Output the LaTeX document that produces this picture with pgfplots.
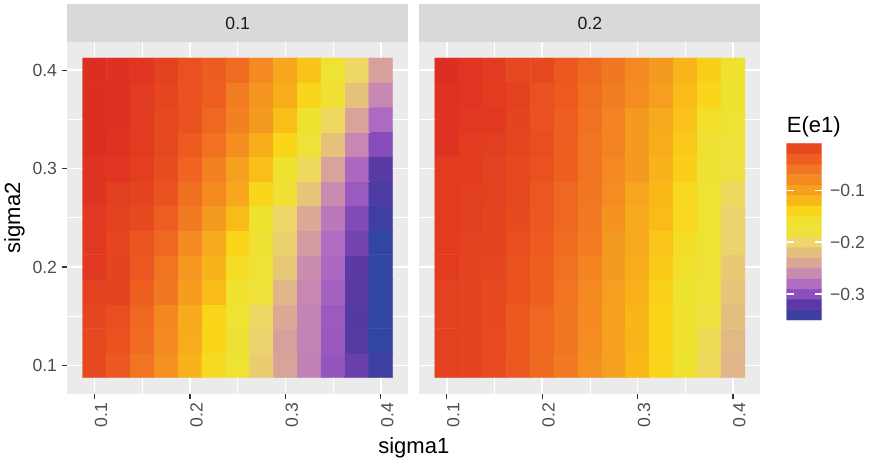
\documentclass[border=0pt]{standalone}
\usepackage{pgfplots}
\pgfplotsset{compat=1.18}
\usepackage{fontspec}
\setmainfont{Liberation Sans}
\definecolor{panelbg}{HTML}{EBEBEB}
\definecolor{stripbg}{HTML}{D9D9D9}
\definecolor{ticklab}{HTML}{4D4D4D}
\definecolor{tickcol}{HTML}{333333}
\definecolor{striptext}{HTML}{1A1A1A}
\pgfplotsset{
  colormap={ee}{
    rgb255(0)=(46,71,163)
    rgb255(10)=(60,63,160)
    rgb255(30)=(92,58,166)
    rgb255(50)=(141,79,188)
    rgb255(70)=(177,109,194)
    rgb255(90)=(201,138,176)
    rgb255(110)=(218,167,151)
    rgb255(130)=(227,191,127)
    rgb255(150)=(238,214,106)
    rgb255(170)=(239,225,58)
    rgb255(190)=(238,226,47)
    rgb255(210)=(250,213,26)
    rgb255(230)=(249,184,24)
    rgb255(250)=(246,160,32)
    rgb255(270)=(244,138,33)
    rgb255(290)=(240,118,34)
    rgb255(310)=(238,94,32)
    rgb255(330)=(230,73,31)
    rgb255(340)=(221,46,34)
  },
  facet/.style={
    scale only axis, width=341bp, height=351.7bp,
    xmin=0.07125, xmax=0.42875, ymin=0.07125, ymax=0.42875,
    axis background/.style={fill=panelbg},
    axis line style={draw=none},
    xtick={0.1,0.2,0.3,0.4}, ytick={0.1,0.2,0.3,0.4},
    xticklabels={0.1,0.2,0.3,0.4},
    minor xtick={0.15,0.25,0.35}, minor ytick={0.15,0.25,0.35},
    grid=both,
    major grid style={white, line width=1.6bp},
    minor grid style={white, line width=0.8bp},
    tick align=outside, major tick length=5bp, minor tick length=0pt,
    xtick pos=bottom, ytick pos=left,
    major tick style={tickcol, line width=1.3bp},
    colormap name=ee, point meta min=-0.35, point meta max=-0.01,
    tick label style={font=\fontsize{17.6bp}{20bp}\selectfont, text=ticklab},
    xticklabel style={rotate=90, anchor=north east, inner sep=0pt},
    xticklabel shift=4bp,
    yticklabel style={anchor=east, inner sep=0pt, xshift=-5bp},
  },
}
\newcommand{\tickfont}{\fontsize{17.6bp}{20bp}\selectfont}
\newcommand{\titlefont}{\fontsize{22bp}{26bp}\selectfont}
\begin{document}
\begin{tikzpicture}[x=1bp,y=1bp]
\path (0,0) rectangle (871,-461);
% left panel: sigma = 0.1
\begin{axis}[facet, at={(67.2bp,-393.7bp)}, anchor=south west, yticklabels={0.1,0.2,0.3,0.4}]
\addplot[matrix plot*, mesh/cols=13, point meta=explicit] coordinates {
(0.1,0.1)[-0.020] (0.125,0.1)[-0.035] (0.15,0.1)[-0.058] (0.175,0.1)[-0.085] (0.2,0.1)[-0.115] (0.225,0.1)[-0.148] (0.25,0.1)[-0.165] (0.275,0.1)[-0.208] (0.3,0.1)[-0.242] (0.325,0.1)[-0.266] (0.35,0.1)[-0.296] (0.375,0.1)[-0.315] (0.4,0.1)[-0.338]

(0.1,0.125)[-0.020] (0.125,0.125)[-0.029] (0.15,0.125)[-0.052] (0.175,0.125)[-0.080] (0.2,0.125)[-0.110] (0.225,0.125)[-0.140] (0.25,0.125)[-0.170] (0.275,0.125)[-0.203] (0.3,0.125)[-0.245] (0.325,0.125)[-0.265] (0.35,0.125)[-0.294] (0.375,0.125)[-0.323] (0.4,0.125)[-0.348]

(0.1,0.15)[-0.019] (0.125,0.15)[-0.025] (0.15,0.15)[-0.048] (0.175,0.15)[-0.077] (0.2,0.15)[-0.108] (0.225,0.15)[-0.140] (0.25,0.15)[-0.165] (0.275,0.15)[-0.198] (0.3,0.15)[-0.238] (0.325,0.15)[-0.264] (0.35,0.15)[-0.292] (0.375,0.15)[-0.325] (0.4,0.15)[-0.348]

(0.1,0.175)[-0.017] (0.125,0.175)[-0.018] (0.15,0.175)[-0.042] (0.175,0.175)[-0.062] (0.2,0.175)[-0.097] (0.225,0.175)[-0.122] (0.25,0.175)[-0.158] (0.275,0.175)[-0.180] (0.3,0.175)[-0.228] (0.325,0.175)[-0.262] (0.35,0.175)[-0.288] (0.375,0.175)[-0.322] (0.4,0.175)[-0.348]

(0.1,0.2)[-0.014] (0.125,0.2)[-0.018] (0.15,0.2)[-0.033] (0.175,0.2)[-0.058] (0.2,0.2)[-0.092] (0.225,0.2)[-0.115] (0.25,0.2)[-0.150] (0.275,0.2)[-0.172] (0.3,0.2)[-0.212] (0.325,0.2)[-0.258] (0.35,0.2)[-0.283] (0.375,0.2)[-0.320] (0.4,0.2)[-0.348]

(0.1,0.225)[-0.014] (0.125,0.225)[-0.019] (0.15,0.225)[-0.032] (0.175,0.225)[-0.048] (0.2,0.225)[-0.080] (0.225,0.225)[-0.108] (0.25,0.225)[-0.140] (0.275,0.225)[-0.170] (0.3,0.225)[-0.205] (0.325,0.225)[-0.248] (0.35,0.225)[-0.280] (0.375,0.225)[-0.310] (0.4,0.225)[-0.348]

(0.1,0.25)[-0.014] (0.125,0.25)[-0.017] (0.15,0.25)[-0.021] (0.175,0.25)[-0.040] (0.2,0.25)[-0.065] (0.225,0.25)[-0.095] (0.25,0.25)[-0.122] (0.275,0.25)[-0.160] (0.3,0.25)[-0.200] (0.325,0.25)[-0.238] (0.35,0.25)[-0.272] (0.375,0.25)[-0.305] (0.4,0.25)[-0.338]

(0.1,0.275)[-0.012] (0.125,0.275)[-0.016] (0.15,0.275)[-0.018] (0.175,0.275)[-0.030] (0.2,0.275)[-0.055] (0.225,0.275)[-0.080] (0.25,0.275)[-0.105] (0.275,0.275)[-0.142] (0.3,0.275)[-0.170] (0.325,0.275)[-0.215] (0.35,0.275)[-0.260] (0.375,0.275)[-0.292] (0.4,0.275)[-0.330]

(0.1,0.3)[-0.012] (0.125,0.3)[-0.013] (0.15,0.3)[-0.016] (0.175,0.3)[-0.024] (0.2,0.3)[-0.045] (0.225,0.3)[-0.070] (0.25,0.3)[-0.100] (0.275,0.3)[-0.125] (0.3,0.3)[-0.160] (0.325,0.3)[-0.196] (0.35,0.3)[-0.243] (0.375,0.3)[-0.283] (0.4,0.3)[-0.322]

(0.1,0.325)[-0.010] (0.125,0.325)[-0.012] (0.15,0.325)[-0.015] (0.175,0.325)[-0.020] (0.2,0.325)[-0.037] (0.225,0.325)[-0.056] (0.25,0.325)[-0.082] (0.275,0.325)[-0.112] (0.3,0.325)[-0.140] (0.325,0.325)[-0.175] (0.35,0.325)[-0.217] (0.375,0.325)[-0.262] (0.4,0.325)[-0.303]

(0.1,0.35)[-0.010] (0.125,0.35)[-0.011] (0.15,0.35)[-0.015] (0.175,0.35)[-0.020] (0.2,0.35)[-0.030] (0.225,0.35)[-0.048] (0.25,0.35)[-0.072] (0.275,0.35)[-0.095] (0.3,0.35)[-0.125] (0.325,0.35)[-0.160] (0.35,0.35)[-0.196] (0.375,0.35)[-0.243] (0.4,0.35)[-0.282]

(0.1,0.375)[-0.010] (0.125,0.375)[-0.011] (0.15,0.375)[-0.015] (0.175,0.375)[-0.019] (0.2,0.375)[-0.030] (0.225,0.375)[-0.040] (0.25,0.375)[-0.066] (0.275,0.375)[-0.090] (0.3,0.375)[-0.112] (0.325,0.375)[-0.142] (0.35,0.375)[-0.170] (0.375,0.375)[-0.218] (0.4,0.375)[-0.262]

(0.1,0.4)[-0.010] (0.125,0.4)[-0.011] (0.15,0.4)[-0.013] (0.175,0.4)[-0.017] (0.2,0.4)[-0.028] (0.225,0.4)[-0.038] (0.25,0.4)[-0.052] (0.275,0.4)[-0.080] (0.3,0.4)[-0.105] (0.325,0.4)[-0.128] (0.35,0.4)[-0.165] (0.375,0.4)[-0.198] (0.4,0.4)[-0.245]
};
\end{axis}
% right panel: sigma = 0.2
\begin{axis}[facet, at={(419.4bp,-393.7bp)}, anchor=south west, yticklabels={}, ytick style={draw=none}]
\addplot[matrix plot*, mesh/cols=13, point meta=explicit] coordinates {
(0.1,0.1)[-0.017] (0.125,0.1)[-0.018] (0.15,0.1)[-0.022] (0.175,0.1)[-0.035] (0.2,0.1)[-0.050] (0.225,0.1)[-0.064] (0.25,0.1)[-0.085] (0.275,0.1)[-0.100] (0.3,0.1)[-0.119] (0.325,0.1)[-0.142] (0.35,0.1)[-0.163] (0.375,0.1)[-0.194] (0.4,0.1)[-0.228]

(0.1,0.125)[-0.017] (0.125,0.125)[-0.018] (0.15,0.125)[-0.022] (0.175,0.125)[-0.034] (0.2,0.125)[-0.048] (0.225,0.125)[-0.061] (0.25,0.125)[-0.082] (0.275,0.125)[-0.100] (0.3,0.125)[-0.117] (0.325,0.125)[-0.140] (0.35,0.125)[-0.160] (0.375,0.125)[-0.192] (0.4,0.125)[-0.225]

(0.1,0.15)[-0.017] (0.125,0.15)[-0.018] (0.15,0.15)[-0.020] (0.175,0.15)[-0.034] (0.2,0.15)[-0.048] (0.225,0.15)[-0.060] (0.25,0.15)[-0.080] (0.275,0.15)[-0.100] (0.3,0.15)[-0.118] (0.325,0.15)[-0.140] (0.35,0.15)[-0.160] (0.375,0.15)[-0.182] (0.4,0.15)[-0.220]

(0.1,0.175)[-0.017] (0.125,0.175)[-0.018] (0.15,0.175)[-0.020] (0.175,0.175)[-0.030] (0.2,0.175)[-0.042] (0.225,0.175)[-0.058] (0.25,0.175)[-0.078] (0.275,0.175)[-0.098] (0.3,0.175)[-0.114] (0.325,0.175)[-0.138] (0.35,0.175)[-0.163] (0.375,0.175)[-0.175] (0.4,0.175)[-0.215]

(0.1,0.2)[-0.015] (0.125,0.2)[-0.018] (0.15,0.2)[-0.019] (0.175,0.2)[-0.028] (0.2,0.2)[-0.042] (0.225,0.2)[-0.056] (0.25,0.2)[-0.074] (0.275,0.2)[-0.095] (0.3,0.2)[-0.112] (0.325,0.2)[-0.133] (0.35,0.2)[-0.157] (0.375,0.2)[-0.172] (0.4,0.2)[-0.210]

(0.1,0.225)[-0.015] (0.125,0.225)[-0.017] (0.15,0.225)[-0.018] (0.175,0.225)[-0.025] (0.2,0.225)[-0.037] (0.225,0.225)[-0.052] (0.25,0.225)[-0.066] (0.275,0.225)[-0.095] (0.3,0.225)[-0.108] (0.325,0.225)[-0.130] (0.35,0.225)[-0.152] (0.375,0.225)[-0.168] (0.4,0.225)[-0.203]

(0.1,0.25)[-0.015] (0.125,0.25)[-0.016] (0.15,0.25)[-0.018] (0.175,0.25)[-0.021] (0.2,0.25)[-0.033] (0.225,0.25)[-0.048] (0.25,0.25)[-0.064] (0.275,0.25)[-0.088] (0.3,0.25)[-0.108] (0.325,0.25)[-0.122] (0.35,0.25)[-0.145] (0.375,0.25)[-0.168] (0.4,0.25)[-0.203]

(0.1,0.275)[-0.015] (0.125,0.275)[-0.016] (0.15,0.275)[-0.017] (0.175,0.275)[-0.020] (0.2,0.275)[-0.033] (0.225,0.275)[-0.048] (0.25,0.275)[-0.062] (0.275,0.275)[-0.082] (0.3,0.275)[-0.104] (0.325,0.275)[-0.120] (0.35,0.275)[-0.145] (0.375,0.275)[-0.168] (0.4,0.275)[-0.195]

(0.1,0.3)[-0.015] (0.125,0.3)[-0.015] (0.15,0.3)[-0.017] (0.175,0.3)[-0.020] (0.2,0.3)[-0.028] (0.225,0.3)[-0.042] (0.25,0.3)[-0.058] (0.275,0.3)[-0.078] (0.3,0.3)[-0.095] (0.325,0.3)[-0.115] (0.35,0.3)[-0.135] (0.375,0.3)[-0.170] (0.4,0.3)[-0.182]

(0.1,0.325)[-0.012] (0.125,0.325)[-0.015] (0.15,0.325)[-0.016] (0.175,0.325)[-0.019] (0.2,0.325)[-0.026] (0.225,0.325)[-0.040] (0.25,0.325)[-0.058] (0.275,0.325)[-0.073] (0.3,0.325)[-0.095] (0.325,0.325)[-0.110] (0.35,0.325)[-0.132] (0.375,0.325)[-0.170] (0.4,0.325)[-0.180]

(0.1,0.35)[-0.012] (0.125,0.35)[-0.014] (0.15,0.35)[-0.014] (0.175,0.35)[-0.018] (0.2,0.35)[-0.028] (0.225,0.35)[-0.040] (0.25,0.35)[-0.056] (0.275,0.35)[-0.074] (0.3,0.35)[-0.095] (0.325,0.35)[-0.108] (0.35,0.35)[-0.126] (0.375,0.35)[-0.155] (0.4,0.35)[-0.168]

(0.1,0.375)[-0.012] (0.125,0.375)[-0.013] (0.15,0.375)[-0.015] (0.175,0.375)[-0.017] (0.2,0.375)[-0.028] (0.225,0.375)[-0.036] (0.25,0.375)[-0.054] (0.275,0.375)[-0.066] (0.3,0.375)[-0.082] (0.325,0.375)[-0.098] (0.35,0.375)[-0.122] (0.375,0.375)[-0.142] (0.4,0.375)[-0.162]

(0.1,0.4)[-0.010] (0.125,0.4)[-0.013] (0.15,0.4)[-0.015] (0.175,0.4)[-0.020] (0.2,0.4)[-0.020] (0.225,0.4)[-0.035] (0.25,0.4)[-0.048] (0.275,0.4)[-0.062] (0.3,0.4)[-0.080] (0.325,0.4)[-0.095] (0.35,0.4)[-0.117] (0.375,0.4)[-0.136] (0.4,0.4)[-0.160]
};
\end{axis}
% legend colour bar (17 bands of 0.02)
\begin{axis}[scale only axis, width=35bp, height=176.7bp, at={(786.7bp,-320bp)}, anchor=south west,
  xmin=0, xmax=1, ymin=-0.35, ymax=-0.01,
  axis line style={draw=none}, xtick=\empty,
  ytick={-0.3,-0.2,-0.1}, yticklabels={−0.3,−0.2,−0.1},
  ytick pos=both, yticklabel pos=right,
  tick align=inside, major tick length=7bp,
  major tick style={white, line width=1.1bp}, axis on top,
  colormap name=ee, point meta min=-0.35, point meta max=-0.01,
  yticklabel style={font=\tickfont, text=ticklab, anchor=west, inner sep=0pt, xshift=8.3bp}]
\addplot[matrix plot*, mesh/cols=2, point meta=explicit] coordinates {
(0.25,-0.34)[-0.34] (0.75,-0.34)[-0.34]

(0.25,-0.32)[-0.32] (0.75,-0.32)[-0.32]

(0.25,-0.30)[-0.30] (0.75,-0.30)[-0.30]

(0.25,-0.28)[-0.28] (0.75,-0.28)[-0.28]

(0.25,-0.26)[-0.26] (0.75,-0.26)[-0.26]

(0.25,-0.24)[-0.24] (0.75,-0.24)[-0.24]

(0.25,-0.22)[-0.22] (0.75,-0.22)[-0.22]

(0.25,-0.20)[-0.20] (0.75,-0.20)[-0.20]

(0.25,-0.18)[-0.18] (0.75,-0.18)[-0.18]

(0.25,-0.16)[-0.16] (0.75,-0.16)[-0.16]

(0.25,-0.14)[-0.14] (0.75,-0.14)[-0.14]

(0.25,-0.12)[-0.12] (0.75,-0.12)[-0.12]

(0.25,-0.10)[-0.10] (0.75,-0.10)[-0.10]

(0.25,-0.08)[-0.08] (0.75,-0.08)[-0.08]

(0.25,-0.06)[-0.06] (0.75,-0.06)[-0.06]

(0.25,-0.04)[-0.04] (0.75,-0.04)[-0.04]

(0.25,-0.02)[-0.02] (0.75,-0.02)[-0.02]
};
\end{axis}
% facet strips
\fill[stripbg] (67.2,-4) rectangle (408.2,-42);
\node[font=\tickfont, text=striptext] at (237.7,-23) {0.1};
\fill[stripbg] (419.4,-4) rectangle (760.4,-42);
\node[font=\tickfont, text=striptext] at (589.9,-23) {0.2};
% titles
\node[font=\titlefont, anchor=base, inner sep=0pt] at (413.8,-453) {sigma1};
\node[font=\titlefont, rotate=90, anchor=north, inner sep=0pt] at (4,-217.9) {sigma2};
\node[font=\titlefont, anchor=base west, inner sep=0pt] at (786.7,-133) {E(e1)};
\end{tikzpicture}
\end{document}
